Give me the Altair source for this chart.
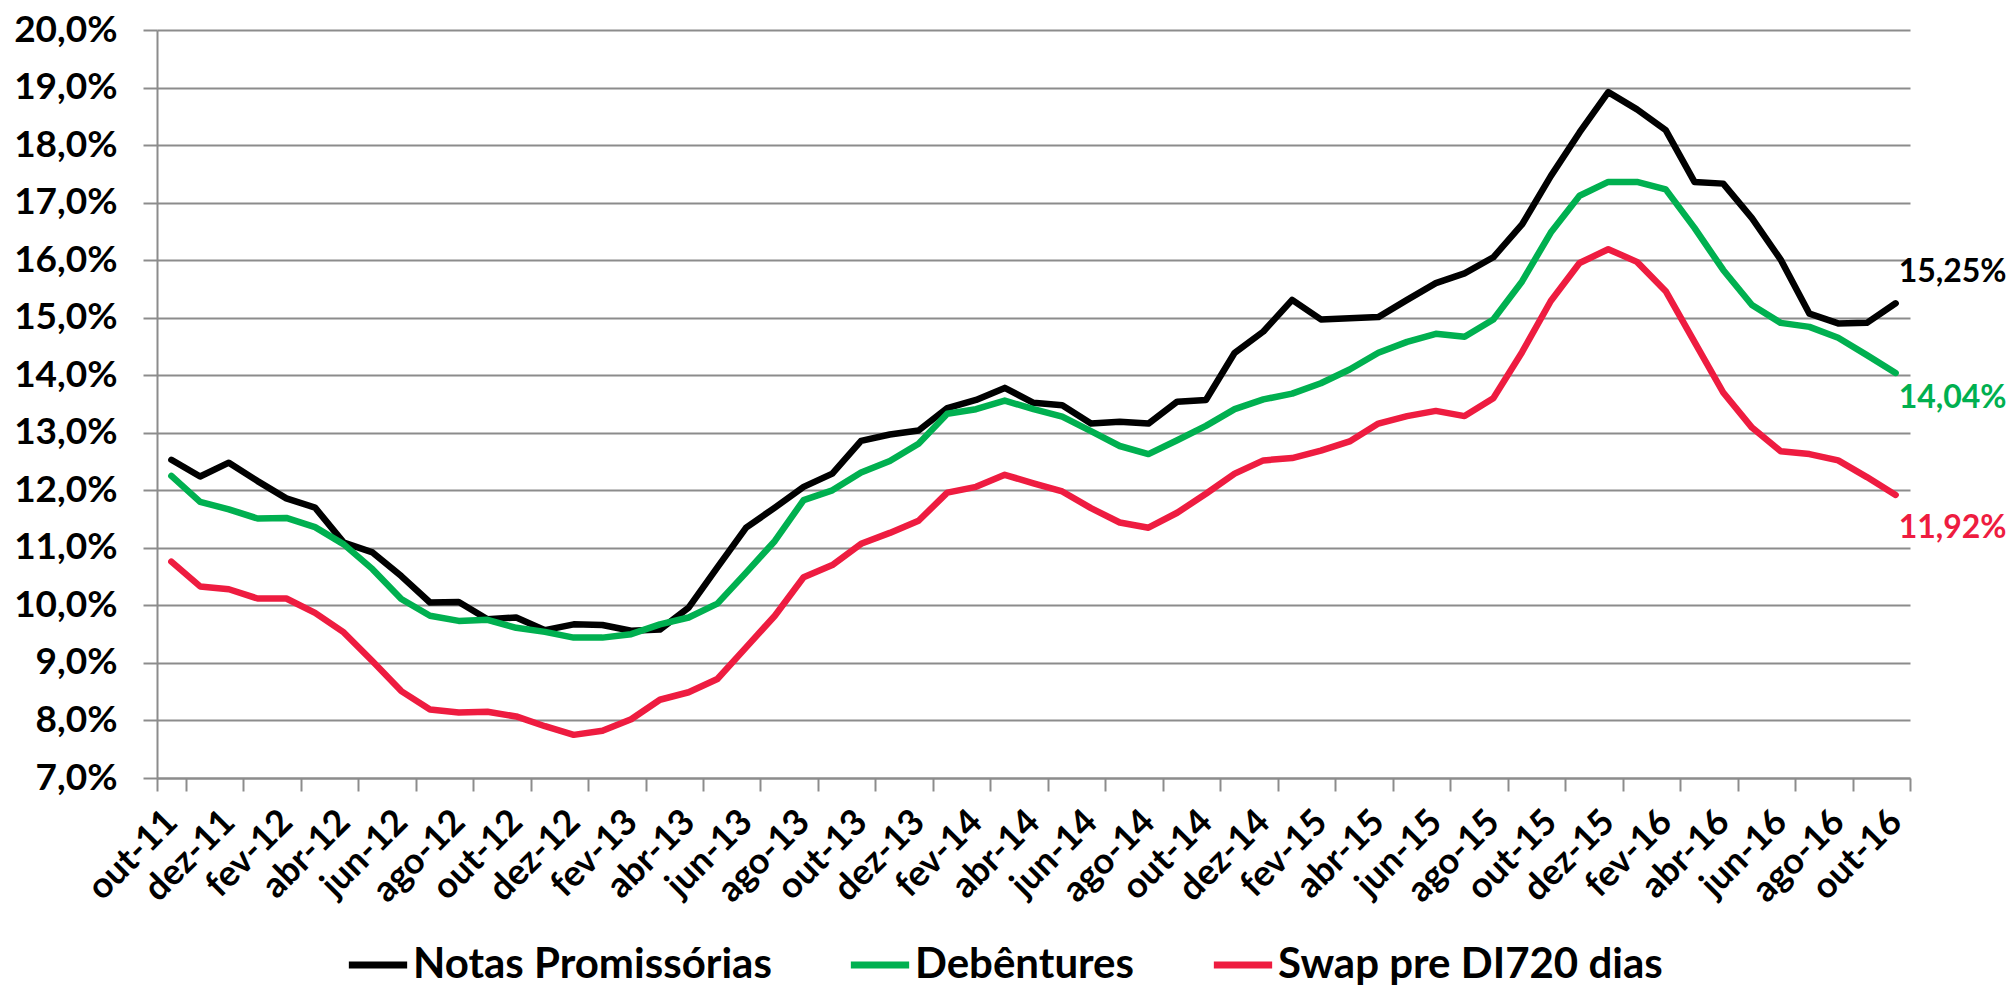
import altair as alt
import pandas as pd

nomes_meses = ["jan", "fev", "mar", "abr", "mai", "jun", "jul", "ago", "set", "out", "nov", "dez"]
# meses de out-11 a out-16
meses = []
for k in range(61):
    m = (9 + k) % 12
    a = 11 + (9 + k) // 12
    meses.append(f"{nomes_meses[m]}-{a}")

notas = [12.53, 12.24, 12.48, 12.16, 11.86, 11.70, 11.09, 10.92, 10.51, 10.05,
         10.06, 9.76, 9.79, 9.57, 9.67, 9.66, 9.56, 9.58, 9.96, 10.66,
         11.35, 11.70, 12.06, 12.29, 12.86, 12.97, 13.04, 13.43, 13.57, 13.78,
         13.52, 13.48, 13.16, 13.19, 13.16, 13.54, 13.57, 14.39, 14.76, 15.31,
         14.97, 14.99, 15.01, 15.31, 15.60, 15.77, 16.05, 16.62, 17.46, 18.22,
         18.92, 18.62, 18.26, 17.36, 17.33, 16.73, 16.01, 15.07, 14.90, 14.91,
         15.25]

debentures = [12.25, 11.80, 11.67, 11.51, 11.52, 11.36, 11.06, 10.63, 10.11, 9.82,
              9.73, 9.75, 9.61, 9.54, 9.44, 9.44, 9.50, 9.67, 9.79, 10.03,
              10.57, 11.12, 11.83, 12.00, 12.31, 12.51, 12.81, 13.33, 13.41, 13.56,
              13.41, 13.28, 13.03, 12.77, 12.63, 12.87, 13.12, 13.41, 13.58, 13.68,
              13.86, 14.10, 14.39, 14.58, 14.72, 14.67, 14.97, 15.63, 16.48, 17.12,
              17.36, 17.36, 17.23, 16.56, 15.83, 15.22, 14.91, 14.84, 14.65, 14.35,
              14.04]

swap = [10.76, 10.33, 10.28, 10.12, 10.12, 9.87, 9.53, 9.03, 8.51, 8.19,
        8.14, 8.15, 8.07, 7.90, 7.75, 7.82, 8.02, 8.36, 8.49, 8.72,
        9.27, 9.82, 10.49, 10.70, 11.07, 11.26, 11.47, 11.96, 12.06, 12.27,
        12.12, 11.98, 11.69, 11.44, 11.35, 11.61, 11.94, 12.29, 12.52, 12.56,
        12.69, 12.85, 13.16, 13.29, 13.38, 13.29, 13.60, 14.40, 15.29, 15.95,
        16.19, 15.97, 15.46, 14.58, 13.70, 13.09, 12.68, 12.63, 12.52, 12.23,
        11.92]

series = ["Notas Promissórias", "Debêntures", "Swap pre DI720 dias"]
cores = ["#000000", "#00b050", "#ee1c40"]
valores_y = list(range(7, 21))

rows = []
for nome, vals in zip(series, [notas, debentures, swap]):
    for i, (m, v) in enumerate(zip(meses, vals)):
        rows.append({"mes": m, "ordem": i, "serie": nome, "valor": v})
df = pd.DataFrame(rows)

FONT = "Lato"

x_enc = alt.X(
    "mes:O",
    sort=meses,
    bandPosition=0.5,
    title=None,
    scale=alt.Scale(type="band", paddingInner=0, paddingOuter=0),
    axis=alt.Axis(
        values=meses[::2],
        tickBand="extent",
        grid=False,
        labelAngle=315,
        labelAlign="right",
        labelBaseline="middle",
        labelFontSize=36,
        labelPadding=25,
        labelOverlap=False,
        tickSize=13,
    ),
)
y_enc = alt.Y(
    "valor:Q",
    title=None,
    scale=alt.Scale(domain=[7, 20], nice=False, zero=False),
    axis=alt.Axis(
        values=valores_y,
        labelExpr="replace(format(datum.value, '.1f'), '.', ',') + '%'",
        labelFontSize=37,
        labelPadding=26,
        tickSize=14,
        grid=True,
    ),
)

color_enc = alt.Color(
    "serie:N",
    scale=alt.Scale(domain=series, range=cores),
    sort=series,
    legend=alt.Legend(
        orient="none",
        legendX=188,
        legendY=902,
        direction="horizontal",
        title=None,
        symbolType="stroke",
        symbolStrokeWidth=7,
        symbolSize=3400,
        labelFontSize=42,
        labelFont=FONT,
        labelFontWeight="bold",
        labelColor="#000000",
        labelOffset=2,
        columnPadding=64,
        labelLimit=700,
    ),
)

linhas = alt.Chart(df).mark_line(strokeWidth=6.5, strokeCap="round", strokeJoin="round").encode(
    x=x_enc, y=y_enc, color=color_enc, order=alt.Order("ordem:Q")
)

fmt = "replace(format(datum.valor, '.2f'), '.', ',') + '%'"
offsets = [-31, 25, 33]
rotulos = []
for nome, cor, dy in zip(series, cores, offsets):
    rotulos.append(
        alt.Chart(df)
        .transform_filter(f"datum.ordem == 60 && datum.serie == '{nome}'")
        .transform_calculate(rotulo=fmt)
        .mark_text(align="left", baseline="middle", dx=3, dy=dy, font=FONT,
                   fontWeight="bold", fontSize=32, color=cor)
        .encode(x=alt.X("mes:O", sort=meses, bandPosition=0.5), y="valor:Q", text="rotulo:N")
    )

chart = (
    alt.layer(linhas, *rotulos)
    .properties(
        width=1753,
        height=748,
        autosize=alt.AutoSizeParams(type="none"),
        padding={"left": 149, "top": 22, "right": 97, "bottom": 210},
    )
    .configure_view(stroke=None)
    .configure_axis(
        labelFont=FONT,
        labelFontWeight="bold",
        labelColor="#000000",
        domainColor="#8c8c8c",
        domainWidth=2,
        tickColor="#8c8c8c",
        tickWidth=2,
        gridColor="#8c8c8c",
        gridWidth=2,
    )
)

chart.save("out.html", embed_options={"renderer": "svg", "actions": False})
